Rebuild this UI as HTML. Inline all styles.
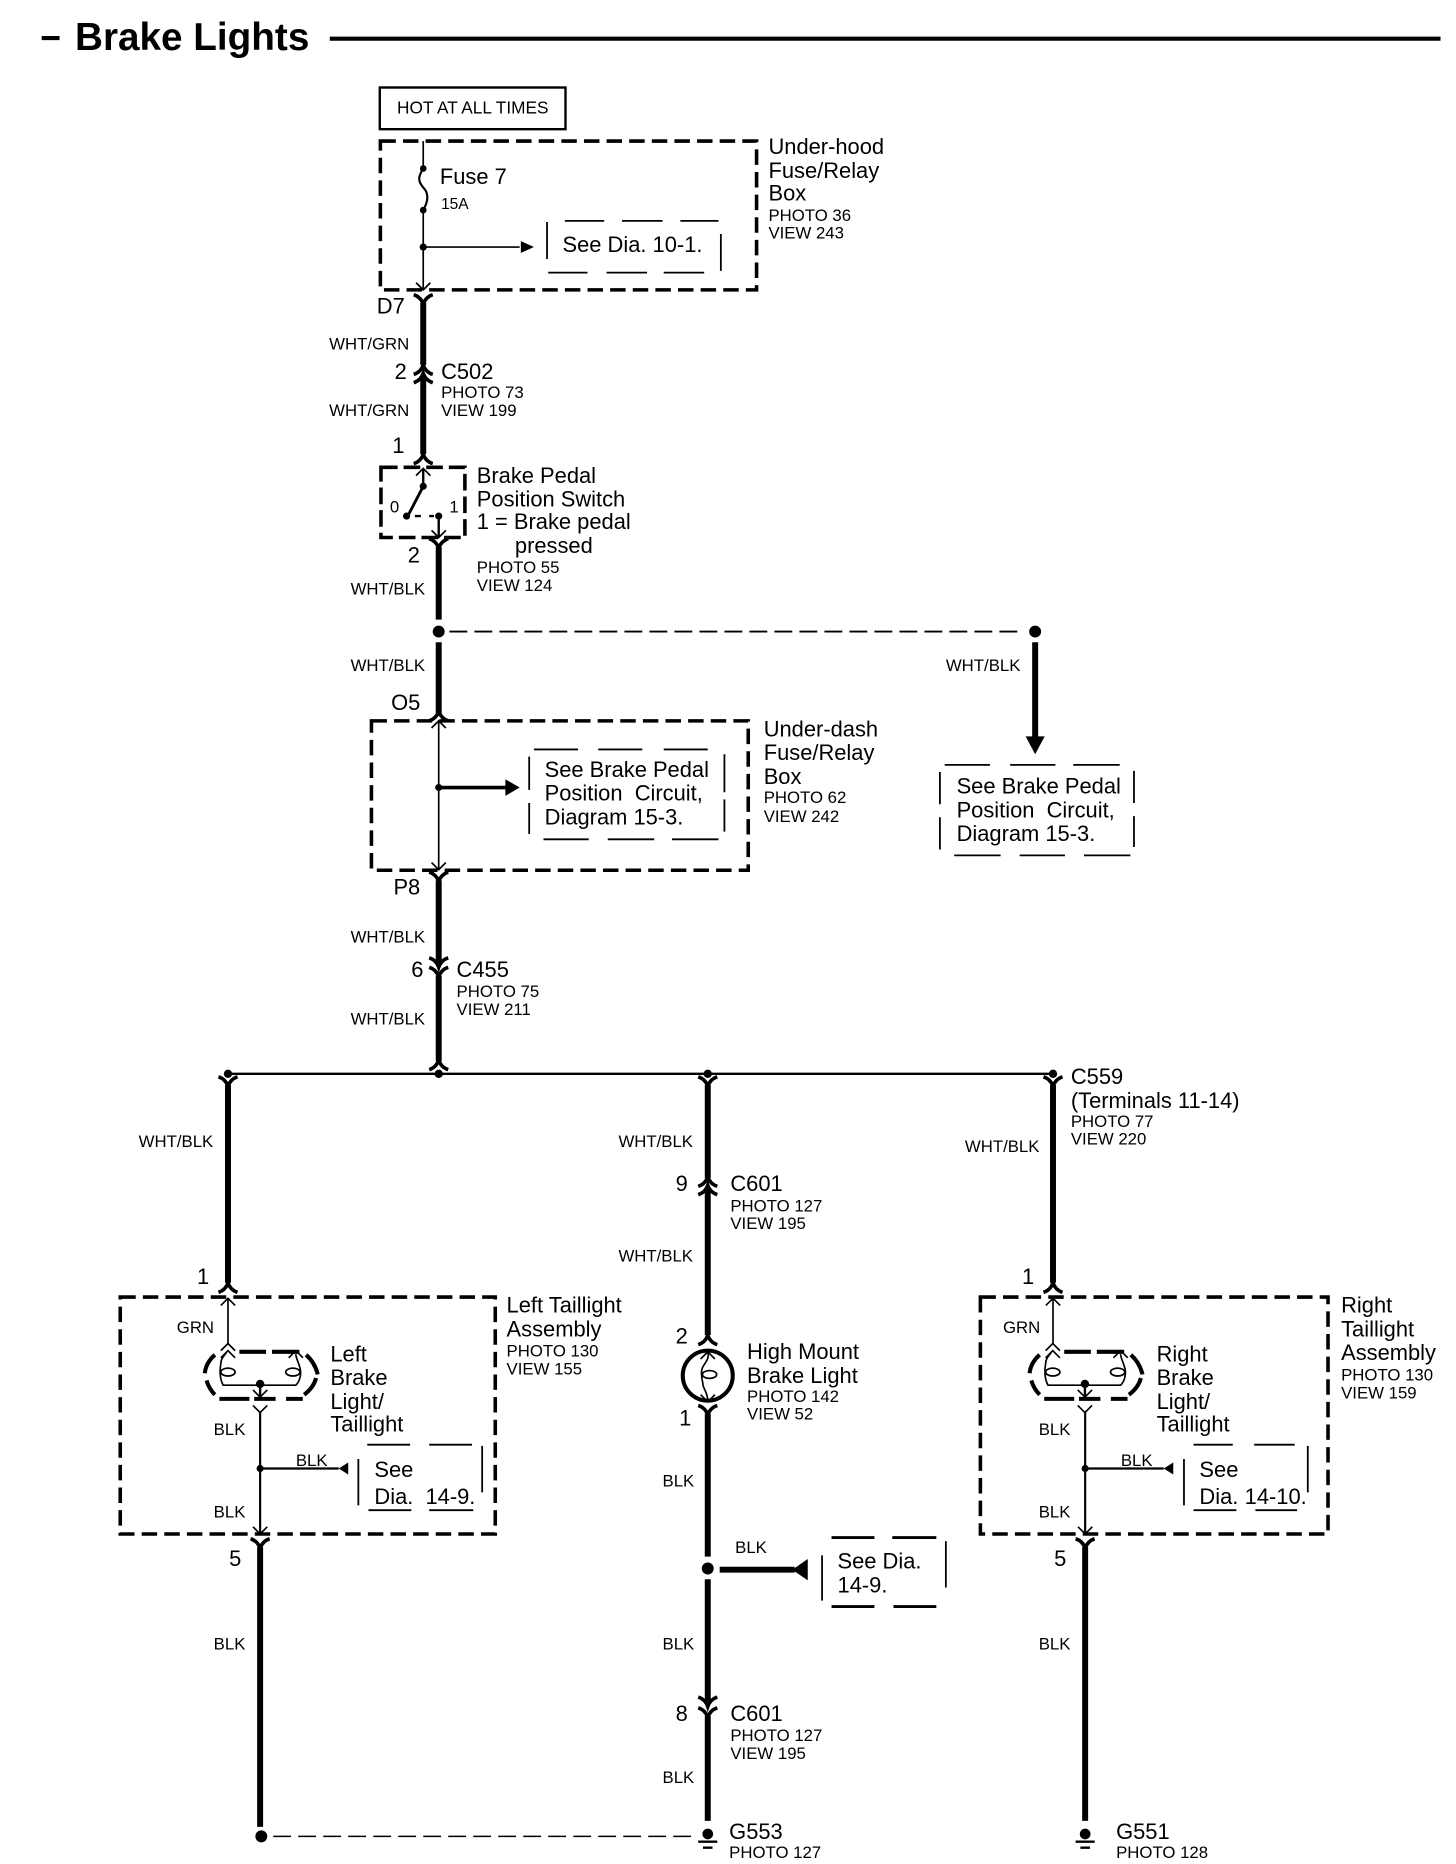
<!DOCTYPE html>
<html><head><meta charset="utf-8"><title>Brake Lights</title>
<style>
html,body{margin:0;padding:0;background:#fff;width:1456px;height:1864px;overflow:hidden}
svg{display:block}
text{font-family:"Liberation Sans",sans-serif;fill:#000;font-size:18.4px}
.s{font-size:14.1px}
.t{font-size:32.5px;font-weight:bold}
.w{stroke:#000;stroke-width:5;fill:none}
.n{stroke:#000;stroke-width:1.4;fill:none}
.m{stroke:#000;stroke-width:2;fill:none}
.b{stroke:#000;stroke-width:3;fill:none;stroke-dasharray:13 6}
.r{stroke:#000;stroke-width:1.5;fill:none}
.e{stroke:#000;stroke-width:2;fill:none}
</style></head><body>
<svg xmlns="http://www.w3.org/2000/svg" width="1456" height="1864" viewBox="0 0 1223 1565.7">
<defs>
<path id="cu" d="M-8 5Q-2 3 0 -3Q2 3 8 5" stroke="#000" stroke-width="3" fill="none"/>
<path id="cd" d="M-8 -5Q-2 -3 0 3Q2 -3 8 -5" stroke="#000" stroke-width="3" fill="none"/>
<path id="au" d="M-6 6L0 0L6 6" stroke="#000" stroke-width="1.4" fill="none"/>
<path id="ad" d="M-6 -6L0 0L6 -6" stroke="#000" stroke-width="1.4" fill="none"/>
<g id="gnd"><circle cx="0" cy="-2" r="4.5"/><path d="M-8 4.5H8M-4 9.5H4" stroke="#000" stroke-width="2"/></g>
<g id="bulb">
<path d="M201.6 1136H224M229 1136H252M184.8 1175.5H210M214 1175.5H232M240.8 1175.5H254.8M181 1138.5Q173.5 1145 172.5 1154M174 1160Q176 1167 181 1172M257.6 1138.5Q265 1145 267.4 1155M266 1158Q264 1166 256 1172" stroke="#000" stroke-width="3.4" fill="none"/>
<path d="M190.5 1137C188 1140 186 1142 186 1146C185 1151 185 1159 188 1164H249C253 1160 254 1153 252 1148C251 1144 249 1141 249 1138" class="n"/>
<ellipse cx="192" cy="1153" rx="6" ry="3.3" class="n"/><ellipse cx="246.5" cy="1153" rx="6" ry="3.3" class="n"/>
<use href="#au" x="192" y="1129"/><use href="#au" x="192" y="1135"/><use href="#au" x="249" y="1135"/>
<circle cx="219" cy="1163" r="3.5"/><path d="M219 1163V1174" class="m"/><use href="#ad" x="219" y="1174"/>
<use href="#ad" x="219" y="1187"/>
</g>
</defs>

<!-- title -->
<path d="M35 32H50" stroke="#000" stroke-width="3.5"/>
<text class="t" x="63" y="42">Brake Lights</text>
<path d="M277 32.5H1210" stroke="#000" stroke-width="3.5"/>

<g transform="translate(-0.5,-0.5)">
<!-- top box -->
<rect x="319.5" y="74" width="156" height="35" class="m"/>
<text class="s" x="334" y="96" style="font-size:14.5px">HOT AT ALL TIMES</text>
<rect x="320" y="119" width="316" height="125" class="b"/>
<path d="M356 119V142M356 177V244M356 208H437" class="n"/>
<path d="M356 142C351 150 352 153 356 158C361 163 360 170 356 177" class="n" style="stroke-width:1.8"/>
<circle cx="356" cy="142" r="2.8"/><circle cx="356" cy="177" r="2.8"/><circle cx="356" cy="208" r="3"/>
<path d="M438 203L449 208L438 213Z"/>
<use href="#ad" x="356" y="244"/>
<text x="370" y="155">Fuse 7</text>
<text class="s" x="371" y="176" style="font-size:13px">15A</text>
<path d="M460 187V218M606 197V228M475 186H508M523 186H557M572 186H604M461 229.5H494M510 229.5H544M558 229.5H592" class="r"/>
<text x="473" y="212">See Dia. 10-1.</text>
<text x="646" y="130">Under-hood</text><text x="646" y="150">Fuse/Relay</text><text x="646" y="169">Box</text>
<text class="s" x="646" y="186">PHOTO 36</text><text class="s" x="646" y="201">VIEW 243</text>

<use href="#cd" x="356" y="253"/>
<path d="M356 255V307" class="w"/>
<text x="317" y="264">D7</text>
<text class="s" x="277" y="294">WHT/GRN</text>
<use href="#cu" x="356" y="310"/><use href="#cu" x="356" y="317"/>
<path d="M356 316V382" class="w"/>
<text x="332" y="319">2</text>
<text x="371" y="319">C502</text>
<text class="s" x="371" y="335">PHOTO 73</text><text class="s" x="371" y="350">VIEW 199</text>
<text class="s" x="277" y="350">WHT/GRN</text>
<text x="330" y="381">1</text>
<use href="#cu" x="356" y="385"/>

<!-- switch -->
<rect x="320.5" y="393" width="70.5" height="59" class="b" style="stroke-dasharray:14 5"/>
<path d="M356 394V409" class="n" style="stroke-width:2"/><use href="#au" x="356" y="394"/>
<path d="M356 409L343 434" stroke="#000" stroke-width="2.4"/>
<circle cx="356" cy="409" r="3"/><circle cx="342" cy="434" r="3"/><circle cx="369" cy="434" r="3"/>
<path d="M349 434H354M361 434H365" class="m"/>
<path d="M369 434V452" class="m"/><use href="#ad" x="369" y="452"/>
<text class="s" x="328" y="431">0</text><text class="s" x="378" y="431">1</text>
<text x="401" y="406">Brake Pedal</text><text x="401" y="426">Position Switch</text>
<text x="401" y="445">1 = Brake pedal</text><text x="433" y="465">pressed</text>
<text class="s" x="401" y="482">PHOTO 55</text><text class="s" x="401" y="497">VIEW 124</text>
<use href="#cd" x="369" y="458"/>
<text x="343" y="473">2</text>
<path d="M369 460V521" class="w"/>
<text class="s" x="295" y="500">WHT/BLK</text>
<circle cx="369" cy="531" r="5"/>
<path d="M378 531H860" class="e" style="stroke-dasharray:15 6;stroke-width:1.6"/>
<circle cx="870" cy="531" r="5"/>
<path d="M369 540V600" class="w"/>
<text class="s" x="295" y="564">WHT/BLK</text>
<path d="M870 540V621" class="w"/><path d="M862 619H878L870 634Z"/>
<text class="s" x="795" y="564">WHT/BLK</text>
<text x="329" y="597">O5</text>
<use href="#cu" x="369" y="601"/>

<!-- under dash -->
<rect x="312.5" y="606" width="316.5" height="125.5" class="b"/>
<path d="M369 606V731" class="n"/><use href="#au" x="369" y="606"/><use href="#ad" x="369" y="731"/>
<circle cx="369" cy="662" r="3"/>
<path d="M369 662H426" stroke="#000" stroke-width="3"/><path d="M425 655L437 662L425 669Z"/>
<path d="M445 636V664M445 675V701M609 634V666M609 672V699M449 630H486M503 630H540M558 630H595M457 705.5H495M511 705.5H550M565 705.5H604" class="r"/>
<text x="458" y="653">See Brake Pedal</text>
<text x="458" y="673" xml:space="preserve">Position  Circuit,</text>
<text x="458" y="693">Diagram 15-3.</text>
<text x="642" y="619">Under-dash</text><text x="642" y="639">Fuse/Relay</text><text x="642" y="659">Box</text>
<text class="s" x="642" y="675">PHOTO 62</text><text class="s" x="642" y="691">VIEW 242</text>

<path d="M790 649V676M790 687V714M953 648V675M953 686V712M794 643H832M849 643H887M902 643H941M802 719H841M857 719H895M911 719H950" class="r"/>
<text x="804" y="667">See Brake Pedal</text>
<text x="804" y="687" xml:space="preserve">Position  Circuit,</text>
<text x="804" y="707">Diagram 15-3.</text>

<use href="#cd" x="369" y="738"/>
<text x="331" y="752">P8</text>
<path d="M369 740V811" class="w"/>
<text class="s" x="295" y="792">WHT/BLK</text>
<use href="#cd" x="369" y="810"/><use href="#cd" x="369" y="818"/>
<path d="M369 820V892" class="w"/>
<text x="346" y="821">6</text><text x="384" y="821">C455</text>
<text class="s" x="384" y="838">PHOTO 75</text><text class="s" x="384" y="853">VIEW 211</text>
<text class="s" x="295" y="861">WHT/BLK</text>
<use href="#cu" x="369" y="894"/>

<!-- bus -->
<path d="M191 902.5H885" stroke="#000" stroke-width="2"/>
<circle cx="192" cy="902.5" r="3.5"/><circle cx="369" cy="902.5" r="3.5"/><circle cx="595" cy="902.5" r="3.5"/><circle cx="885" cy="902.5" r="3.5"/>
<use href="#cd" x="192" y="910"/><use href="#cd" x="595" y="910"/><use href="#cd" x="885" y="910"/>

<!-- left -->
<path d="M192 912V1078" class="w"/>
<text class="s" x="117" y="964">WHT/BLK</text>
<text x="166" y="1079">1</text>
<use href="#cu" x="192" y="1081"/>
<rect x="101.5" y="1090" width="315" height="199" class="b"/>
<path d="M192 1091V1129" class="n"/><use href="#au" x="192" y="1091"/>
<text class="s" x="149" y="1120">GRN</text>
<use href="#bulb"/>
<path d="M219 1187V1288M219 1234H285" class="n" style="stroke-width:1.8"/>
<circle cx="219" cy="1234" r="3"/>
<path d="M285 1234L293 1229V1239Z"/>
<use href="#ad" x="219" y="1289"/>
<text x="278" y="1144">Left</text><text x="278" y="1164">Brake</text><text x="278" y="1184">Light/</text><text x="278" y="1203">Taillight</text>
<text class="s" x="180" y="1206">BLK</text><text class="s" x="249" y="1232">BLK</text><text class="s" x="180" y="1275">BLK</text>
<path d="M301.5 1226V1265M405.5 1215V1254M361 1214H397M309 1214H345M310 1269H346M361 1269H398" class="r"/>
<text x="315" y="1241">See</text><text x="315" y="1264" xml:space="preserve">Dia.  14-9.</text>
<text x="426" y="1103">Left Taillight</text><text x="426" y="1123">Assembly</text>
<text class="s" x="426" y="1140">PHOTO 130</text><text class="s" x="426" y="1155">VIEW 155</text>
<use href="#cd" x="219" y="1298"/>
<path d="M219 1300V1535" class="w"/>
<text x="193" y="1316">5</text>
<text class="s" x="180" y="1386">BLK</text>
<circle cx="220" cy="1543" r="5"/>
<path d="M230 1543H586" class="e" style="stroke-dasharray:15 6;stroke-width:1.2"/>

<!-- center -->
<path d="M595 912V990" class="w"/>
<text class="s" x="520" y="964">WHT/BLK</text>
<use href="#cu" x="595" y="992"/><use href="#cu" x="595" y="999"/>
<path d="M595 998V1122" class="w"/>
<text x="568" y="1001">9</text><text x="614" y="1001">C601</text>
<text class="s" x="614" y="1018">PHOTO 127</text><text class="s" x="614" y="1033">VIEW 195</text>
<text class="s" x="520" y="1060">WHT/BLK</text>
<text x="568" y="1129">2</text>
<use href="#cu" x="595" y="1125"/>
<ellipse cx="595" cy="1156" rx="21" ry="21" stroke="#000" stroke-width="3.4" fill="none"/>
<path d="M595 1136C597 1143 591 1146 590 1151C589 1157 591 1161 591 1164C592 1168 595 1171 595 1177" class="n"/>
<ellipse cx="596.5" cy="1155" rx="6" ry="3.3" class="n"/>
<use href="#au" x="595" y="1136"/><use href="#ad" x="595" y="1178"/>
<text x="628" y="1142">High Mount</text><text x="628" y="1162">Brake Light</text>
<text class="s" x="628" y="1178">PHOTO 142</text><text class="s" x="628" y="1193">VIEW 52</text>
<use href="#cd" x="595" y="1186"/>
<text x="571" y="1198">1</text>
<path d="M595 1188V1308" class="w"/>
<text class="s" x="557" y="1249">BLK</text>
<circle cx="595" cy="1318" r="5"/>
<path d="M605 1319H668" stroke="#000" stroke-width="5"/><path d="M666 1319L679 1310V1328Z"/>
<text class="s" x="618" y="1305">BLK</text>
<path d="M691 1307V1345M795 1295V1334" class="r"/>
<path d="M699 1292H735M750 1292H787M699 1350H735M751 1350H787" stroke="#000" stroke-width="2.4"/>
<text x="704" y="1318">See Dia.</text><text x="704" y="1338">14-9.</text>
<path d="M595 1327V1430" class="w"/>
<text class="s" x="557" y="1386">BLK</text>
<use href="#cd" x="595" y="1431"/><use href="#cd" x="595" y="1440"/>
<path d="M595 1442V1530" class="w"/>
<text x="568" y="1446">8</text><text x="614" y="1446">C601</text>
<text class="s" x="614" y="1463">PHOTO 127</text><text class="s" x="614" y="1478">VIEW 195</text>
<text class="s" x="557" y="1498">BLK</text>
<use href="#gnd" x="595" y="1543"/>
<text x="613" y="1545">G553</text><text class="s" x="613" y="1561">PHOTO 127</text>

<!-- right -->
<path d="M885 912V1078" class="w"/>
<text x="900" y="911">C559</text><text x="900" y="931">(Terminals 11-14)</text>
<text class="s" x="900" y="947">PHOTO 77</text><text class="s" x="900" y="962">VIEW 220</text>
<text class="s" x="811" y="968">WHT/BLK</text>
<text x="859" y="1079">1</text>
<use href="#cu" x="885" y="1081"/>
<rect x="824" y="1090" width="292" height="199" class="b"/>
<path d="M885 1091V1129" class="n"/><use href="#au" x="885" y="1091"/>
<text class="s" x="843" y="1120">GRN</text>
<use href="#bulb" x="692.8"/>
<path d="M912 1187V1288M912 1234H978" class="n" style="stroke-width:1.8"/>
<circle cx="912" cy="1234" r="3"/>
<path d="M978 1234L986 1229V1239Z"/>
<use href="#ad" x="912" y="1289"/>
<text x="972" y="1144">Right</text><text x="972" y="1164">Brake</text><text x="972" y="1184">Light/</text><text x="972" y="1203">Taillight</text>
<text class="s" x="873" y="1206">BLK</text><text class="s" x="942" y="1232">BLK</text><text class="s" x="873" y="1275">BLK</text>
<path d="M995 1226V1265M1099 1215V1254M1003 1214H1036M1054 1214H1088M1003 1269H1039M1055 1269H1090" class="r"/>
<text x="1008" y="1241">See</text><text x="1008" y="1264">Dia.</text><text x="1046" y="1264">14-10.</text>
<text x="1127" y="1103">Right</text><text x="1127" y="1123">Taillight</text><text x="1127" y="1143">Assembly</text>
<text class="s" x="1127" y="1160">PHOTO 130</text><text class="s" x="1127" y="1175">VIEW 159</text>
<use href="#cd" x="912" y="1298"/>
<path d="M912 1300V1530" class="w"/>
<text x="886" y="1316">5</text>
<text class="s" x="873" y="1386">BLK</text>
<use href="#gnd" x="912" y="1543"/>
<text x="938" y="1545">G551</text><text class="s" x="938" y="1561">PHOTO 128</text>
</g>
</svg>
</body></html>
